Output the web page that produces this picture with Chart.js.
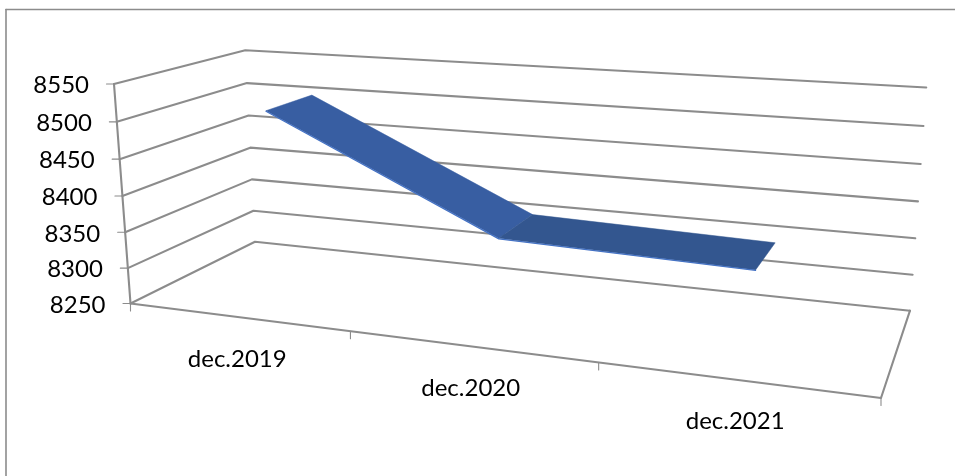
<!DOCTYPE html>
<html>
<head>
<meta charset="utf-8">
<style>
  html, body { margin: 0; padding: 0; background: #fff; }
  #wrap { position: relative; width: 955px; height: 476px; }
</style>
<script src="https://cdn.jsdelivr.net/npm/chart.js@4"></script>
</head>
<body>
<div id="wrap"><canvas id="chart" width="955" height="476"></canvas></div>
<script>
// Chart values
const categories = ['dec.2019', 'dec.2020', 'dec.2021'];
const values = [8508, 8363, 8355];
const valueTicks = [8250, 8300, 8350, 8400, 8450, 8500, 8550];

const GRID = '#8c8c8c';
const TEXT = '#000000';
const FONT = '24px Lato';

// Perspective camera for the 3-D box: pixel positions of the origin and of the
// far ends of the three box edges, with their homogeneous weights.
const O = [130.5, 303.5];
const EDGE_U = { p: [881, 398], k: 0.8291 };
const EDGE_V = { p: [114, 84], k: 0.96 };
const EDGE_W = { p: [255, 241.7], k: 1.1534 };

function project(u, v, w) {
  const d = 1 + u * (EDGE_U.k - 1) + v * (EDGE_V.k - 1) + w * (EDGE_W.k - 1);
  const axis = i => O[i]
    + u * (EDGE_U.k * EDGE_U.p[i] - O[i])
    + v * (EDGE_V.k * EDGE_V.p[i] - O[i])
    + w * (EDGE_W.k * EDGE_W.p[i] - O[i]);
  return { x: axis(0) / d, y: axis(1) / d };
}

const vMin = valueTicks[0];
const vMax = valueTicks[valueTicks.length - 1];
const heightOf = value => (value - vMin) / (vMax - vMin);
const slotOf = i => (i + 0.5) / categories.length;

// Depth band occupied by the ribbon
const RIBBON_FRONT = 0.30;
const RIBBON_BACK = 0.69;

function line(points, color, width, order) {
  return {
    type: 'scatter', data: points, showLine: true, pointRadius: 0,
    borderColor: color, borderWidth: width, fill: false, tension: 0, order,
    borderCapStyle: 'round', borderJoinStyle: 'round'
  };
}

function ribbonSegment(i, color) {
  const a = heightOf(values[i]);
  const b = heightOf(values[i + 1]);
  const ua = slotOf(i);
  const ub = slotOf(i + 1);
  return {
    type: 'scatter', showLine: true, pointRadius: 0, tension: 0,
    data: [
      project(ua, a, RIBBON_FRONT), project(ub, b, RIBBON_FRONT),
      project(ub, b, RIBBON_BACK), project(ua, a, RIBBON_BACK),
      project(ua, a, RIBBON_FRONT)
    ],
    borderColor: color, borderWidth: 0.5, backgroundColor: color, fill: 'shape', order: 2
  };
}

const datasets = [];

// Side wall and back wall gridlines, one per value tick
valueTicks.forEach(t => {
  const v = heightOf(t);
  const front = project(0, v, 0);
  datasets.push(line([front, project(0, v, 1), project(1, v, 1)], GRID, 2.1, 5));
  datasets.push(line([{ x: front.x - 7.5, y: front.y }, front], GRID, 1.1, 5));
});

// Value axis and floor outline
datasets.push(line([project(0, 1, 0), project(0, 0, 0)], GRID, 2.1, 4));
datasets.push(line([project(0, 0, 0), project(1, 0, 0), project(1, 0, 1)], GRID, 2.1, 4));

// Category axis ticks between the slots
for (let i = 0; i <= categories.length; i++) {
  const p = project(i / categories.length, 0, 0);
  datasets.push(line([p, { x: p.x, y: p.y + 7.5 }], GRID, 1.1, 4));
}

// The ribbon itself, with its lighter front edge
datasets.push(ribbonSegment(1, '#33568f'));
datasets.push(ribbonSegment(0, '#385ea2'));
datasets.push(line(values.map((val, i) => {
  const p = project(slotOf(i), heightOf(val), RIBBON_FRONT);
  return { x: p.x, y: p.y + 0.5 };
}), '#4472c4', 1.2, 1));

// Outer chart frame
datasets.push(line([{ x: 6, y: 9.5 }, { x: 958, y: 9.5 }], GRID, 1.6, 6));
datasets.push(line([{ x: 6, y: 9.5 }, { x: 6, y: 480 }], GRID, 1.6, 6));

// Axis labels placed through the box projection, kept upright
const boxLabels = {
  id: 'boxLabels',
  afterDatasetsDraw(chart) {
    const { ctx, scales } = chart;
    ctx.save();
    ctx.fillStyle = TEXT;
    ctx.font = FONT;
    ctx.textBaseline = 'middle';
    ctx.textAlign = 'right';
    valueTicks.forEach(t => {
      const p = project(0, heightOf(t), 0);
      ctx.fillText(String(t), scales.x.getPixelForValue(p.x - 25), scales.y.getPixelForValue(p.y + 1.5));
    });
    ctx.textAlign = 'center';
    categories.forEach((c, i) => {
      const p = project(slotOf(i), 0, 0);
      ctx.fillText(c, scales.x.getPixelForValue(p.x), scales.y.getPixelForValue(p.y + 42));
    });
    ctx.restore();
  }
};

new Chart(document.getElementById('chart'), {
  type: 'scatter',
  data: { datasets },
  plugins: [boxLabels],
  options: {
    responsive: false,
    animation: false,
    layout: { padding: 0 },
    plugins: { legend: { display: false }, tooltip: { enabled: false } },
    scales: {
      x: { type: 'linear', min: 0, max: 955, display: false },
      y: { type: 'linear', min: 0, max: 476, reverse: true, display: false }
    }
  }
});
</script>
</body>
</html>
